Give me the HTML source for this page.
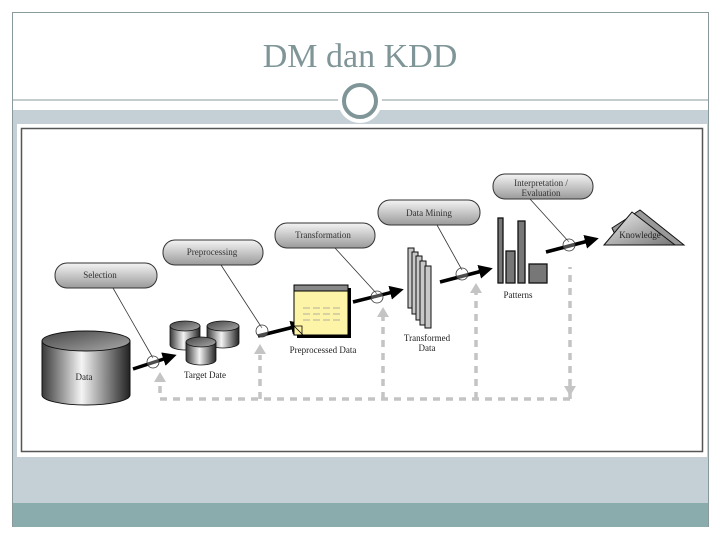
<!DOCTYPE html>
<html><head><meta charset="utf-8"><style>
html,body{margin:0;padding:0;background:#fff;}
body{width:720px;height:540px;position:relative;overflow:hidden;font-family:"Liberation Serif",serif;}
</style></head><body>
<svg width="720" height="540" viewBox="0 0 720 540" xmlns="http://www.w3.org/2000/svg" style="position:absolute;left:0;top:0">
<defs>
<linearGradient id="cyl" x1="0" x2="1" y1="0" y2="0">
<stop offset="0" stop-color="#3a3a3a"/><stop offset="0.45" stop-color="#f4f4f4"/><stop offset="1" stop-color="#222"/>
</linearGradient>
<linearGradient id="cyltop" x1="0" x2="1" y1="0" y2="1">
<stop offset="0" stop-color="#444"/><stop offset="1" stop-color="#aaa"/>
</linearGradient>
<linearGradient id="bub" x1="0" x2="0" y1="0" y2="1">
<stop offset="0" stop-color="#f4f4f4"/><stop offset="1" stop-color="#9a9a9a"/>
</linearGradient>
<linearGradient id="tri" x1="0" x2="1" y1="0" y2="1">
<stop offset="0" stop-color="#eee"/><stop offset="1" stop-color="#777"/>
</linearGradient>
<marker id="ah" markerWidth="4" markerHeight="4" refX="2" refY="2" orient="auto" markerUnits="strokeWidth">
<path d="M0,0 L4,2 L0,4 z" fill="#000"/></marker>
</defs>
<rect x="12.5" y="12.5" width="696" height="514" fill="#fff" stroke="#8a9a9c"/>
<line x1="12" y1="100" x2="709" y2="100" stroke="#8a9a9c" stroke-width="1"/>
<rect x="13" y="110" width="695" height="393" fill="#c5d0d6"/>
<rect x="13" y="503" width="695" height="24" fill="#8aacac"/>
<circle cx="360" cy="101" r="22" fill="#fff"/>
<circle cx="360" cy="101" r="16" fill="none" stroke="#7f9597" stroke-width="4"/>
<text x="360" y="67" text-anchor="middle" font-size="34" fill="#7f9597" font-family="Liberation Serif,serif">DM dan KDD</text>
<rect x="17" y="124" width="690" height="333" fill="#fff"/>
<rect x="21.5" y="128.5" width="681" height="323" fill="#fff" stroke="#555" stroke-width="1.5"/>

<g stroke="#c4c4c4" stroke-width="3.5" stroke-dasharray="7,6" fill="none">
<path d="M570,399 H160 V378"/>
<path d="M260,399 V355"/>
<path d="M383,399 V316"/>
<path d="M476,399 V293"/>
<path d="M570,399 V267"/>
</g>
<g fill="#c4c4c4">
<path d="M154,382 L160,372 L166,382z"/>
<path d="M254,354 L260,344 L266,354z"/>
<path d="M377,317 L383,307 L389,317z"/>
<path d="M470,293 L476,283 L482,293z"/>
<path d="M564,386 L570,396 L576,386z"/>
</g>

<g font-size="9" fill="#333" text-anchor="middle" font-family="Liberation Serif,serif">
<rect x="55" y="263" width="102" height="25" rx="12" fill="url(#bub)" stroke="#333"/>
<text x="100" y="278">Selection</text>
<rect x="163" y="240" width="100" height="25" rx="12" fill="url(#bub)" stroke="#333"/>
<text x="212" y="255">Preprocessing</text>
<rect x="275" y="223" width="100" height="25" rx="12" fill="url(#bub)" stroke="#333"/>
<text x="323" y="238">Transformation</text>
<rect x="378" y="200" width="102" height="25" rx="12" fill="url(#bub)" stroke="#333"/>
<text x="429" y="216">Data Mining</text>
<rect x="493" y="174" width="100" height="25" rx="12" fill="url(#bub)" stroke="#333"/>
<text x="541" y="186">Interpretation /</text>
<text x="541" y="196">Evaluation</text>
</g>
<g stroke="#333" stroke-width="0.8" fill="none">
<line x1="113" y1="288" x2="153" y2="358"/>
<line x1="221" y1="265" x2="262" y2="328"/>
<line x1="335" y1="248" x2="377" y2="294"/>
<line x1="437" y1="225" x2="462" y2="270"/>
<line x1="530" y1="199" x2="569" y2="242"/>
</g>

<g stroke="#000" stroke-width="3.5" fill="none" marker-end="url(#ah)">
<line x1="133" y1="369" x2="170" y2="357"/>
<line x1="258" y1="336" x2="298" y2="326"/>
<line x1="353" y1="302" x2="397" y2="291"/>
<line x1="440" y1="282" x2="486" y2="270"/>
<line x1="546" y1="252" x2="592" y2="240"/>
</g>
<g fill="#fff" fill-opacity="0.3" stroke="#333" stroke-width="0.8">
<circle cx="153" cy="362" r="6"/>
<circle cx="262" cy="331" r="6"/>
<circle cx="377" cy="297" r="6"/>
<circle cx="462" cy="274" r="6"/>
<circle cx="569" cy="245" r="6"/>
</g>

<path d="M42,341 V395 A44,10 0 0 0 130,395 V341" fill="url(#cyl)" stroke="#111"/>
<ellipse cx="86" cy="341" rx="44" ry="10" fill="url(#cyltop)" stroke="#111"/>
<text x="84" y="380" font-size="9" text-anchor="middle" fill="#222">Data</text>

<g stroke="#111" stroke-width="0.8">
<path d="M170,326 V345 A15,5 0 0 0 200,345 V326" fill="url(#cyl)"/><ellipse cx="185" cy="326" rx="15" ry="5" fill="url(#cyltop)"/>
<path d="M207,326 V343 A16,5 0 0 0 239,343 V326" fill="url(#cyl)"/><ellipse cx="223" cy="326" rx="16" ry="5" fill="url(#cyltop)"/>
<path d="M186,342 V360 A15,5 0 0 0 216,360 V342" fill="url(#cyl)"/><ellipse cx="201" cy="342" rx="15" ry="5" fill="url(#cyltop)"/>
</g>
<text x="205" y="378" font-size="9" text-anchor="middle" fill="#222">Target Date</text>

<rect x="297" y="288" width="54" height="50" fill="#000"/>
<rect x="294" y="285" width="54" height="50" fill="#fdf4a8" stroke="#000"/>
<rect x="294" y="285" width="54" height="6" fill="#888" stroke="#000"/>
<path d="M294,326 L303,335 M294,326 H302 V335" stroke="#000" fill="none" stroke-width="0.8"/>
<g stroke="#999" stroke-width="0.7" stroke-dasharray="7,3">
<line x1="303" y1="308" x2="340" y2="308"/><line x1="303" y1="314" x2="340" y2="314"/><line x1="303" y1="320" x2="340" y2="320"/>
</g>
<text x="323" y="353" font-size="9" text-anchor="middle" fill="#222">Preprocessed Data</text>

<g fill="#c8c8c8" stroke="#111" stroke-width="1">
<rect x="408" y="248" width="6" height="60"/>
<rect x="412" y="252" width="6" height="62"/>
<rect x="416" y="256" width="6" height="64"/>
<rect x="420" y="261" width="6" height="64"/>
<rect x="425" y="266" width="6" height="62"/>
</g>
<text x="427" y="341" font-size="9" text-anchor="middle" fill="#222">Transformed</text>
<text x="427" y="351" font-size="9" text-anchor="middle" fill="#222">Data</text>

<g fill="#777" stroke="#111" stroke-width="1.3">
<rect x="498" y="218" width="5" height="65"/>
<rect x="506" y="251" width="9" height="32"/>
<rect x="518" y="221" width="7" height="62"/>
<rect x="529" y="264" width="18" height="19"/>
</g>
<text x="518" y="298" font-size="9" text-anchor="middle" fill="#222">Patterns</text>

<path d="M612,228 L640,210 L684,245 L620,245z" fill="#999" stroke="#111"/>
<path d="M604,245 L632,212 L675,245z" fill="url(#tri)" stroke="#111"/>
<text x="640" y="238" font-size="9" text-anchor="middle" fill="#222">Knowledge</text>
</svg>
</body></html>
